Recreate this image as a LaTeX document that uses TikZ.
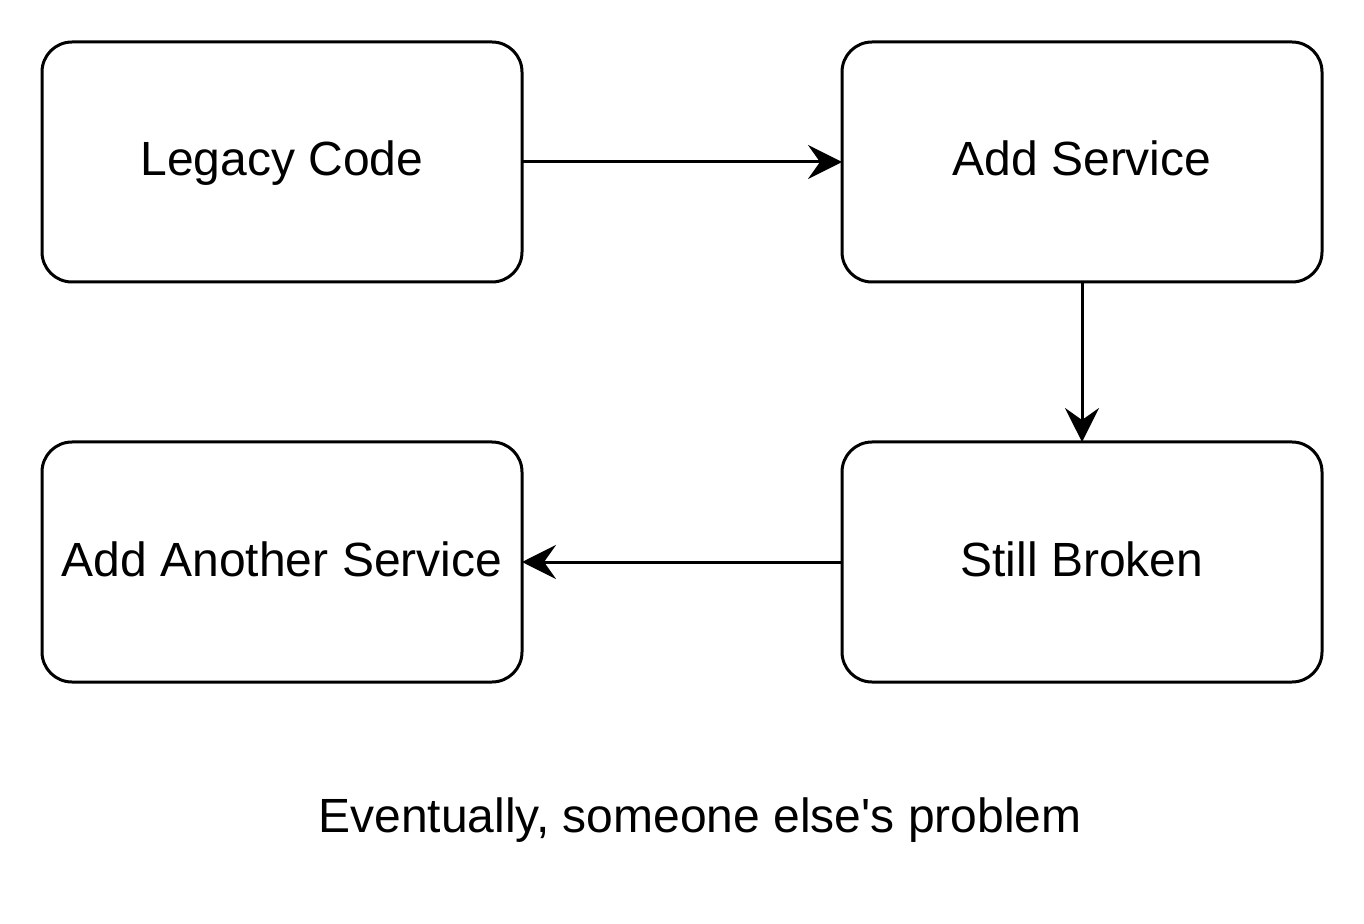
\documentclass[tikz,border=0pt]{standalone}
\usepackage{fontspec}
\setmainfont{Liberation Sans}
\usetikzlibrary{positioning, arrows.meta}

\tikzset{
	stepbox/.style={draw, line width=1.5pt, rounded corners=15pt,
		minimum width=240pt, minimum height=120pt, inner sep=0pt, outer sep=0pt,
		text height=18pt, text depth=4pt,
		font=\fontsize{24}{28}\selectfont},
	flow/.style={-{Stealth[length=17pt, width=17pt, inset=6pt]}, line width=1.5pt}
}

\begin{document}
\begin{tikzpicture}
		\useasboundingbox (0,0) rectangle (682pt,-462pt);

		\node[stepbox] (legacy) at (141pt,-81pt) {Legacy Code};
		\node[stepbox, right=160pt of legacy] (addsvc) {Add Service};
		\node[stepbox, below=80pt of addsvc] (broken) {Still Broken};
		\node[stepbox, left=160pt of broken] (another) {Add Another Service};

		\node[font=\fontsize{24}{28}\selectfont] (caption) at (350pt,-410pt) {Eventually, someone else\textquotesingle s problem};

		\draw[flow] (legacy) -- (addsvc);
		\draw[flow] (addsvc) -- (broken);
		\draw[flow] (broken) -- (another);

	\end{tikzpicture}
\end{document}
